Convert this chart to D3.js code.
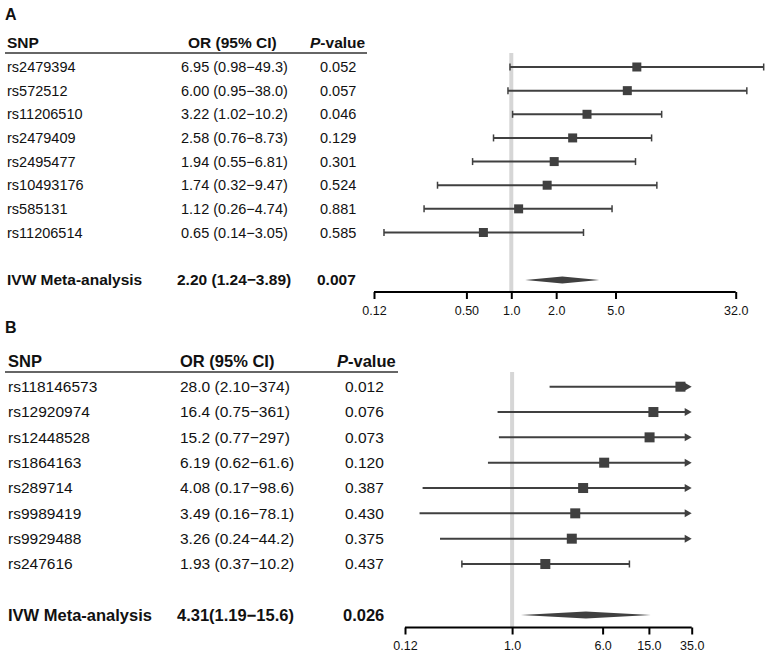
<!DOCTYPE html>
<html><head><meta charset="utf-8">
<script src="https://cdn.jsdelivr.net/npm/d3@7"></script>
<style>body{margin:0;background:#fff}svg{display:block;font-family:"Liberation Sans",Arial,sans-serif}</style>
</head><body><svg id="c" width="767" height="658"></svg>
<script>
// ---- Panel A data ----
const snpA = ["rs2479394","rs572512","rs11206510","rs2479409","rs2495477","rs10493176","rs585131","rs11206514"];
const orA  = [6.95, 6.00, 3.22, 2.58, 1.94, 1.74, 1.12, 0.65];
const loA  = [0.98, 0.95, 1.02, 0.76, 0.55, 0.32, 0.26, 0.14];
const hiA  = [49.3, 38.0, 10.2, 8.73, 6.81, 9.47, 4.74, 3.05];
const ciTextA = ["6.95 (0.98−49.3)","6.00 (0.95−38.0)","3.22 (1.02−10.2)","2.58 (0.76−8.73)","1.94 (0.55−6.81)","1.74 (0.32−9.47)","1.12 (0.26−4.74)","0.65 (0.14−3.05)"];
const pTextA = ["0.052","0.057","0.046","0.129","0.301","0.524","0.881","0.585"];
const metaA = [2.20, 1.24, 3.89];
const metaTextA = ["2.20 (1.24−3.89)", "0.007"];
const ticksA = [0.12, 0.5, 1, 2, 5, 32];
const tickLabelsA = ["0.12","0.50","1.0","2.0","5.0","32.0"];

// ---- Panel B data ----
const snpB = ["rs118146573","rs12920974","rs12448528","rs1864163","rs289714","rs9989419","rs9929488","rs247616"];
const orB  = [28.0, 16.4, 15.2, 6.19, 4.08, 3.49, 3.26, 1.93];
const loB  = [2.10, 0.75, 0.77, 0.62, 0.17, 0.16, 0.24, 0.37];
const hiB  = [374, 361, 297, 61.6, 98.6, 78.1, 44.2, 10.2];
const ciTextB = ["28.0 (2.10−374)","16.4 (0.75−361)","15.2 (0.77−297)","6.19 (0.62−61.6)","4.08 (0.17−98.6)","3.49 (0.16−78.1)","3.26 (0.24−44.2)","1.93 (0.37−10.2)"];
const pTextB = ["0.012","0.076","0.073","0.120","0.387","0.430","0.375","0.437"];
const metaB = [4.31, 1.19, 15.6];
const metaTextB = ["4.31(1.19−15.6)", "0.026"];
const ticksB = [0.12, 1, 6, 15, 35];
const tickLabelsB = ["0.12","1.0","6.0","15.0","35.0"];

const svg = d3.select("#c");
const MARK = "#404040";
const TXT = "#111";

function panel(cfg, d) {
  const g = svg.append("g");
  const x = d3.scaleLog().domain(cfg.domain).range(cfg.range);
  const y = d3.scaleLinear().domain([0, d.snp.length - 1]).range([cfg.row0, cfg.rowN]);

  g.append("text").attr("x", 5).attr("y", cfg.letterY).attr("dy", "0.35em")
    .attr("font-size", 16).attr("font-weight", "bold").attr("fill", TXT).text(cfg.letter);

  // header
  const hdr = g.append("g").attr("font-weight", "bold").attr("font-size", cfg.hfs).attr("fill", TXT);
  hdr.append("text").attr("x", cfg.snpX).attr("y", cfg.headY).attr("dy", "0.35em").text("SNP");
  hdr.append("text").attr("x", cfg.orHX).attr("y", cfg.headY).attr("dy", "0.35em").text("OR (95% CI)");
  const pv = hdr.append("text").attr("x", cfg.pHX).attr("y", cfg.headY).attr("dy", "0.35em");
  pv.append("tspan").attr("font-style", "italic").text("P");
  pv.append("tspan").text("-value");
  g.append("line").attr("x1", 5).attr("x2", cfg.ulX2).attr("y1", cfg.ulY).attr("y2", cfg.ulY)
    .attr("stroke", "#333").attr("stroke-width", 1.3);

  // reference line
  g.append("line").attr("x1", x(1)).attr("x2", x(1)).attr("y1", cfg.ulY).attr("y2", cfg.axisY)
    .attr("stroke", "#d6d6d6").attr("stroke-width", 4);

  // rows text
  const rows = g.append("g").attr("font-size", cfg.fs).attr("fill", TXT);
  d.snp.forEach((s, i) => {
    rows.append("text").attr("x", cfg.snpX).attr("y", y(i)).attr("dy", "0.35em").text(s);
    rows.append("text").attr("x", cfg.orX).attr("y", y(i)).attr("dy", "0.35em").text(d.ciText[i]);
    rows.append("text").attr("x", cfg.pX).attr("y", y(i)).attr("dy", "0.35em").text(d.pText[i]);
  });
  const mg = g.append("g").attr("font-size", cfg.hfs).attr("font-weight", "bold").attr("fill", TXT);
  mg.append("text").attr("x", cfg.snpX).attr("y", cfg.metaY).attr("dy", "0.35em").text("IVW Meta-analysis");
  mg.append("text").attr("x", cfg.orMX).attr("y", cfg.metaY).attr("dy", "0.35em").text(d.metaText[0]);
  mg.append("text").attr("x", cfg.pMX).attr("y", cfg.metaY).attr("dy", "0.35em").text(d.metaText[1]);

  // CI lines
  const xmax = cfg.domain[1];
  d.snp.forEach((s, i) => {
    const yy = y(i);
    const x0 = x(d.lo[i]);
    const over = cfg.clip && d.hi[i] > xmax;
    const x1 = over ? x(xmax) - 5 : x(d.hi[i]);
    g.append("line").attr("x1", x0).attr("x2", x1).attr("y1", yy).attr("y2", yy)
      .attr("stroke", MARK).attr("stroke-width", 2);
    if (over) {
      const xt = x(xmax);
      g.append("path").attr("d", `M${xt},${yy} L${xt - 7},${yy - 4} L${xt - 7},${yy + 4} Z`).attr("fill", MARK);
    } else {
      [x0, x1].forEach(xc => g.append("line").attr("x1", xc).attr("x2", xc).attr("y1", yy - 3.5).attr("y2", yy + 3.5)
        .attr("stroke", MARK).attr("stroke-width", 1.5));
    }
    const sz = cfg.sq;
    g.append("rect").attr("x", x(d.or[i]) - sz / 2).attr("y", yy - sz / 2)
      .attr("width", sz).attr("height", sz).attr("fill", MARK);
  });

  // diamond
  const [mo, ml, mh] = d.meta;
  const h = 3.6;
  g.append("path").attr("d",
    `M${x(ml)},${cfg.metaY} L${x(mo)},${cfg.metaY - h} L${x(mh)},${cfg.metaY} L${x(mo)},${cfg.metaY + h} Z`)
    .attr("fill", MARK);

  // axis
  const ax = g.append("g").attr("transform", `translate(0,${cfg.axisY})`)
    .call(d3.axisBottom(x).tickValues(d.ticks).tickFormat((v, i) => d.tickLabels[i]).tickSize(7).tickSizeOuter(0));
  ax.select(".domain").attr("stroke", "#000").attr("stroke-width", 2)
    .attr("d", `M${cfg.range[0]},0H${cfg.range[1]}`);
  ax.selectAll(".tick line").attr("stroke", "#000").attr("stroke-width", 2);
  ax.selectAll(".tick text").attr("font-size", 12.5).attr("font-family", "Liberation Sans, Arial, sans-serif")
    .attr("fill", TXT).attr("y", 14);
}

panel({
  letter: "A", letterY: 14, domain: [0.12, 32], range: [374, 735.7],
  row0: 67, rowN: 232.5, metaY: 280, headY: 43, ulY: 53, ulX2: 367, axisY: 292,
  snpX: 7, orHX: 188, pHX: 310, orX: 181, pX: 320, orMX: 177, pMX: 317,
  fs: 14.5, hfs: 15.5, sq: 9, clip: false
}, { snp: snpA, or: orA, lo: loA, hi: hiA, ciText: ciTextA, pText: pTextA, meta: metaA, metaText: metaTextA, ticks: ticksA, tickLabels: tickLabelsA });

panel({
  letter: "B", letterY: 327, domain: [0.12, 35], range: [405, 691.7],
  row0: 386.7, rowN: 564, metaY: 615, headY: 361.5, ulY: 372, ulX2: 398, axisY: 627.5,
  snpX: 8, orHX: 180, pHX: 337, orX: 180, pX: 345, orMX: 177, pMX: 343,
  fs: 15.5, hfs: 16.5, sq: 10, clip: true
}, { snp: snpB, or: orB, lo: loB, hi: hiB, ciText: ciTextB, pText: pTextB, meta: metaB, metaText: metaTextB, ticks: ticksB, tickLabels: tickLabelsB });
</script></body></html>
